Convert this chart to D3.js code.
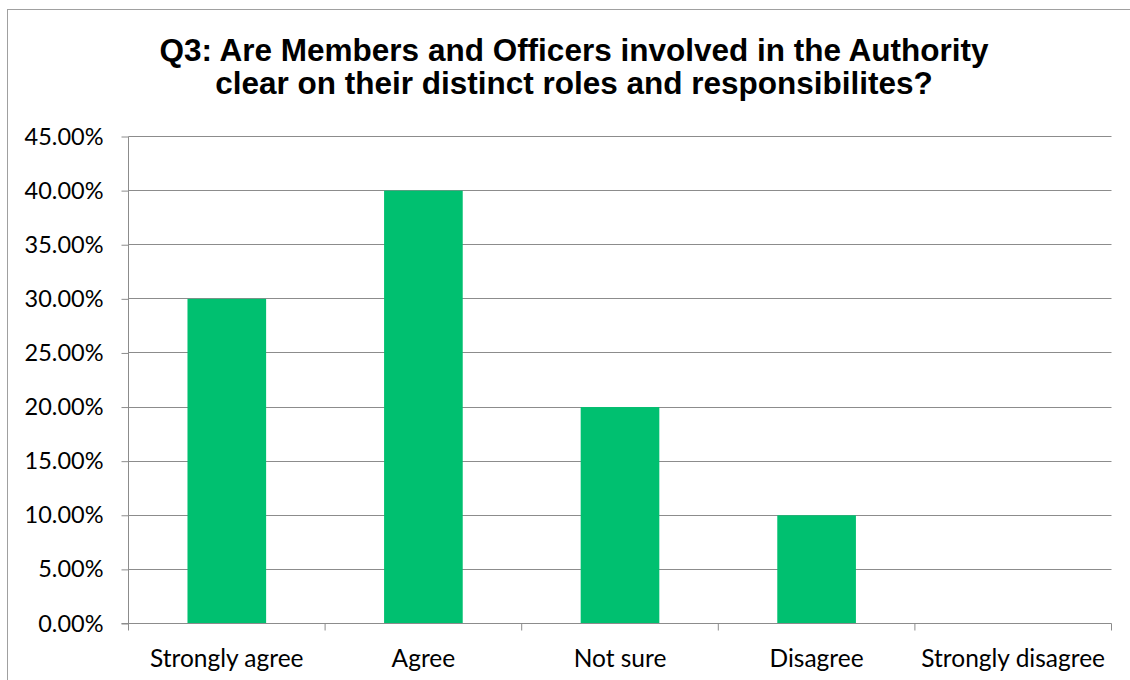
<!DOCTYPE html>
<html><head><meta charset="utf-8">
<script src="https://cdn.jsdelivr.net/npm/d3@7"></script>
<style>body{margin:0;background:#fff;}svg{display:block;}</style>
</head><body>
<script>
const categories = ["Strongly agree","Agree","Not sure","Disagree","Strongly disagree"];
const values = [0.30, 0.40, 0.20, 0.10, 0.0];
const yTicks = [0,0.05,0.10,0.15,0.20,0.25,0.30,0.35,0.40,0.45];
const titleLines = ["Q3: Are Members and Officers involved in the Authority","clear on their distinct roles and responsibilites?"];

(function(){
const W=1130,H=680;
const svg=d3.select("body").append("svg").attr("width",W).attr("height",H);
svg.append("rect").attr("x",7.5).attr("y",9.5).attr("width",1140).attr("height",700)
  .attr("fill","#fff").attr("stroke","#a0a0a0").attr("stroke-width",1);

const pL=128.5,pR=1111.5,pT=136.5,pB=623.5;
const x=d3.scaleBand().domain(categories).range([pL,pR]).paddingInner(0.6).paddingOuter(0.3);
const y=d3.scaleLinear().domain([0,0.45]).range([pB,pT]);

svg.append("g").selectAll("line").data(yTicks.slice(1)).join("line")
  .attr("x1",pL).attr("x2",pR).attr("y1",d=>Math.round(y(d)-0.5)+0.5).attr("y2",d=>Math.round(y(d)-0.5)+0.5)
  .attr("stroke","#8c8c8c").attr("stroke-width",1);

svg.append("g").selectAll("rect").data(values).join("rect")
  .attr("x",(d,i)=>x(categories[i])).attr("width",x.bandwidth())
  .attr("y",d=>y(d)).attr("height",d=>y(0)-y(d)).attr("fill","#00C070");

const yAxis=d3.axisLeft(y).tickValues(yTicks).tickFormat(d3.format(".2%")).tickSize(7).tickPadding(18);
const gy=svg.append("g").attr("transform",`translate(${pL},0)`).call(yAxis);
gy.selectAll("text").attr("font-family","Lato, 'Open Sans', sans-serif").attr("font-size","23.5px").attr("fill","#000");
gy.selectAll("line,path").attr("stroke","#8c8c8c");
gy.select(".domain").attr("d",`M0,${pT}V${pB}`);

const xb=d3.scaleBand().domain(categories).range([pL,pR]);
const gx=svg.append("g").attr("transform",`translate(0,${pB})`);
gx.append("line").attr("x1",pL-7).attr("x2",pR).attr("y1",0).attr("y2",0).attr("stroke","#8c8c8c");
const edges=categories.map(c=>xb(c)).concat([pR]);
gx.selectAll("line.t").data(edges).join("line").attr("class","t")
  .attr("x1",d=>d).attr("x2",d=>d).attr("y1",0).attr("y2",7).attr("stroke","#8c8c8c");
gx.selectAll("text").data(categories).join("text")
  .attr("x",d=>xb(d)+xb.bandwidth()/2).attr("y",43).attr("text-anchor","middle")
  .attr("font-family","Lato, 'Open Sans', sans-serif").attr("font-size","24.5px").attr("fill","#000").text(d=>d);

svg.append("g").selectAll("text").data(titleLines).join("text")
  .attr("x",574).attr("y",(d,i)=>61+i*33).attr("text-anchor","middle")
  .attr("font-family","'Liberation Sans', Arial, sans-serif").attr("font-weight","bold")
  .attr("font-size","31.5px").attr("fill","#000").text(d=>d);
})();
</script>
</body></html>
